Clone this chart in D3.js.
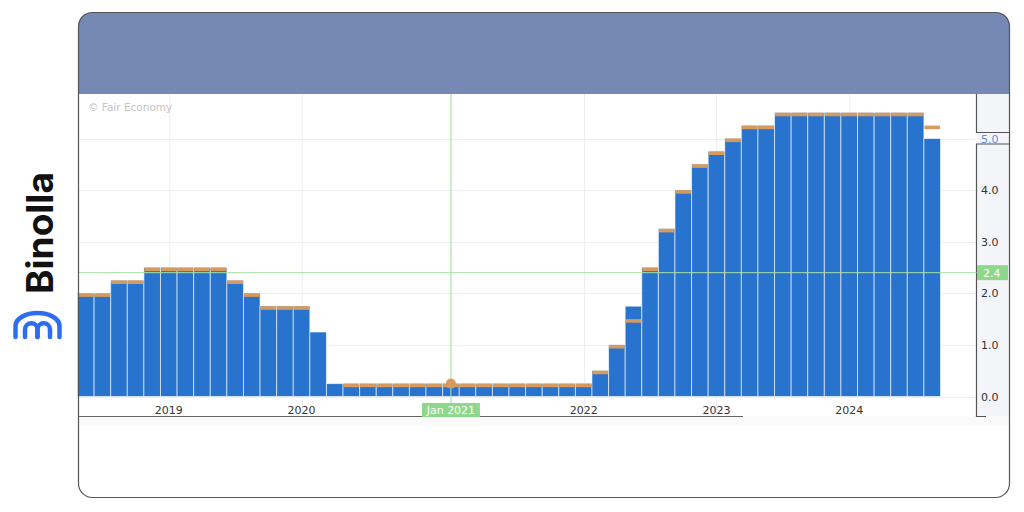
<!DOCTYPE html>
<html>
<head>
<meta charset="utf-8">
<script src="https://cdn.jsdelivr.net/npm/d3@7"></script>
<style>
  html, body { margin: 0; padding: 0; background: #fff; }
  svg { display: block; }
</style>
</head>
<body>
<svg id="chart" width="1024" height="512"></svg>
<script>
// FOMC meetings, upper bound of the fed funds rate
var meetings = [
  "Jun 2018", "Aug 2018", "Sep 2018", "Nov 2018", "Dec 2018",
  "Jan 2019", "Mar 2019", "May 2019", "Jun 2019", "Jul 2019", "Sep 2019", "Oct 2019", "Dec 2019",
  "Jan 2020", "Mar 2020", "Mar 2020", "Apr 2020", "Jun 2020", "Jul 2020", "Sep 2020", "Nov 2020", "Dec 2020",
  "Jan 2021", "Mar 2021", "Apr 2021", "Jun 2021", "Jul 2021", "Sep 2021", "Nov 2021", "Dec 2021",
  "Jan 2022", "Mar 2022", "May 2022", "Jun 2022", "Jul 2022", "Sep 2022", "Nov 2022", "Dec 2022",
  "Feb 2023", "Mar 2023", "May 2023", "Jun 2023", "Jul 2023", "Sep 2023", "Nov 2023", "Dec 2023",
  "Jan 2024", "Mar 2024", "May 2024", "Jun 2024", "Jul 2024", "Sep 2024"
];
var actual = [
  2.00, 2.00, 2.25, 2.25, 2.50,
  2.50, 2.50, 2.50, 2.50, 2.25, 2.00, 1.75, 1.75,
  1.75, 1.25, 0.25, 0.25, 0.25, 0.25, 0.25, 0.25, 0.25,
  0.25, 0.25, 0.25, 0.25, 0.25, 0.25, 0.25, 0.25,
  0.25, 0.50, 1.00, 1.75, 2.50, 3.25, 4.00, 4.50,
  4.75, 5.00, 5.25, 5.25, 5.50, 5.50, 5.50, 5.50,
  5.50, 5.50, 5.50, 5.50, 5.50, 5.00
];
var forecast = [
  2.00, 2.00, 2.25, 2.25, 2.50,
  2.50, 2.50, 2.50, 2.50, 2.25, 2.00, 1.75, 1.75,
  1.75, null, null, 0.25, 0.25, 0.25, 0.25, 0.25, 0.25,
  0.25, 0.25, 0.25, 0.25, 0.25, 0.25, 0.25, 0.25,
  0.25, 0.50, 1.00, 1.50, 2.50, 3.25, 4.00, 4.50,
  4.75, 5.00, 5.25, 5.25, 5.50, 5.50, 5.50, 5.50,
  5.50, 5.50, 5.50, 5.50, 5.50, 5.25
];
var yTicks = [0, 1, 2, 3, 4, 5];
var years = ["2019", "2020", "2021", "2022", "2023", "2024"];
var hoverIndex = 22;     // crosshair bar (Jan 2021)
var hoverValue = 2.4;    // crosshair level on the y axis

var svg = d3.select("#chart");

var frame = { left: 78.5, top: 12.5, right: 1009.5, bottom: 497.5, r: 14 },
  plotTop = 94, axisY = 416.5, axisX = 976.5;

var x = d3.scaleLinear().domain([0, meetings.length]).range([77.5, 940.5]);
var y = d3.scaleLinear().domain([0, 5]).range([396.5, 138.5]);
var bw = x(1) - x(0);

// header band with rounded top corners
svg.append("path")
  .attr("d",
    "M" + frame.left + "," + plotTop +
    "V" + (frame.top + frame.r) +
    "Q" + frame.left + "," + frame.top + " " + (frame.left + frame.r) + "," + frame.top +
    "H" + (frame.right - frame.r) +
    "Q" + frame.right + "," + frame.top + " " + frame.right + "," + (frame.top + frame.r) +
    "V" + plotTop + "Z")
  .attr("fill", "#7689b5");

// right axis panel
svg.append("rect")
  .attr("x", axisX).attr("y", plotTop)
  .attr("width", frame.right - axisX).attr("height", axisY - plotTop)
  .attr("fill", "#f4f5f9");

// faint strip under the x axis
svg.append("rect")
  .attr("x", frame.left).attr("y", axisY)
  .attr("width", frame.right - frame.left).attr("height", 9)
  .attr("fill", "#fafafb");

// horizontal grid
svg.append("g").selectAll("line")
  .data(yTicks).enter().append("line")
  .attr("x1", frame.left).attr("x2", axisX)
  .attr("y1", function (d) { return Math.round(y(d)) + 0.5; })
  .attr("y2", function (d) { return Math.round(y(d)) + 0.5; })
  .attr("stroke", "#eceef4");

// year positions: centre of the first meeting of each year
var yearPos = years.map(function (yr) {
  var i = meetings.findIndex(function (m) { return m.slice(-4) === yr; });
  return { label: yr, pos: i + 0.5, i: i };
});

svg.append("g").selectAll("line")
  .data(yearPos).enter().append("line")
  .attr("x1", function (d) { return Math.round(x(d.pos)) + 0.5; })
  .attr("x2", function (d) { return Math.round(x(d.pos)) + 0.5; })
  .attr("y1", plotTop).attr("y2", axisY)
  .attr("stroke", "#eceef4");

svg.append("text")
  .attr("x", 88).attr("y", 111)
  .attr("font-family", "DejaVu Sans, Verdana, sans-serif")
  .attr("font-size", 10.5)
  .attr("fill", "#c4c4c4")
  .text("\u00a9 Fair Economy");

// bars (actual)
svg.append("g").selectAll("rect")
  .data(actual).enter().append("rect")
  .attr("x", function (d, i) { return x(i); })
  .attr("y", function (d) { return y(d); })
  .attr("width", bw)
  .attr("height", function (d) { return y(0) - y(d); })
  .attr("fill", "#2873cd")
  .attr("stroke", "rgba(255,255,255,0.6)")
  .attr("stroke-width", 1);

// forecast markers
svg.append("g").selectAll("rect")
  .data(forecast.map(function (f, i) { return { f: f, i: i }; })
    .filter(function (d) { return d.f !== null; }))
  .enter().append("rect")
  .attr("x", function (d) { return x(d.i) + 0.5; })
  .attr("y", function (d) { return y(d.f); })
  .attr("width", bw - 1)
  .attr("height", 3.6)
  .attr("fill", "#d69a5e");

// x axis line (partial, as in the source)
svg.append("line")
  .attr("x1", frame.left).attr("x2", 743)
  .attr("y1", axisY).attr("y2", axisY)
  .attr("stroke", "#666").attr("stroke-width", 1.2);

// year labels; the one under the crosshair is covered by its date label
svg.append("g").selectAll("text")
  .data(yearPos.filter(function (d) { return d.i !== hoverIndex; }))
  .enter().append("text")
  .attr("x", function (d) { return x(d.pos); })
  .attr("y", 414)
  .attr("text-anchor", "middle")
  .attr("font-family", "DejaVu Sans, Verdana, sans-serif")
  .attr("font-size", 11)
  .attr("fill", "#333")
  .text(function (d) { return d.label; });

// right axis line with a gap around the top label
var topTick = yTicks[yTicks.length - 1];
svg.append("path")
  .attr("d",
    "M" + axisX + "," + plotTop + "V" + (y(topTick) - 6) + "H" + frame.right +
    "M" + frame.right + "," + (y(topTick) + 5.5) + "H" + axisX + "V" + axisY + "H" + 986)
  .attr("fill", "none")
  .attr("stroke", "#555").attr("stroke-width", 1.2);

svg.append("g").selectAll("text")
  .data(yTicks).enter().append("text")
  .attr("x", 981)
  .attr("y", function (d) { return y(d) + 4; })
  .attr("font-family", "DejaVu Sans, Verdana, sans-serif")
  .attr("font-size", 11)
  .attr("fill", function (d) { return d === topTick ? "#5b93dd" : "#333"; })
  .text(function (d) { return d.toFixed(1); });

// crosshair
var cx = x(hoverIndex + 0.5), cyv = y(hoverValue);
svg.append("line")
  .attr("x1", frame.left).attr("x2", axisX)
  .attr("y1", cyv).attr("y2", cyv)
  .attr("stroke", "#a6e2a6").attr("stroke-width", 1);
svg.append("line")
  .attr("x1", cx).attr("x2", cx)
  .attr("y1", plotTop).attr("y2", 404)
  .attr("stroke", "#a6e2a6").attr("stroke-width", 1);
svg.append("circle")
  .attr("cx", cx).attr("cy", y(forecast[hoverIndex]))
  .attr("r", 5)
  .attr("fill", "#d69a5e");

svg.append("rect")
  .attr("x", cx - 29).attr("y", 403)
  .attr("width", 58).attr("height", 14)
  .attr("fill", "#8ed88e");
svg.append("text")
  .attr("x", cx).attr("y", 414)
  .attr("text-anchor", "middle")
  .attr("font-family", "DejaVu Sans, Verdana, sans-serif")
  .attr("font-size", 11)
  .attr("fill", "#fff")
  .text(meetings[hoverIndex]);

svg.append("rect")
  .attr("x", axisX + 0.5).attr("y", cyv - 7.5)
  .attr("width", 31).attr("height", 15)
  .attr("fill", "#8ed88e");
svg.append("text")
  .attr("x", 983).attr("y", cyv + 4)
  .attr("font-family", "DejaVu Sans, Verdana, sans-serif")
  .attr("font-size", 11)
  .attr("fill", "#fff")
  .text(hoverValue.toFixed(1));

// outer frame
svg.append("rect")
  .attr("x", frame.left).attr("y", frame.top)
  .attr("width", frame.right - frame.left).attr("height", frame.bottom - frame.top)
  .attr("rx", frame.r)
  .attr("fill", "none")
  .attr("stroke", "#555").attr("stroke-width", 1.2);

// Binolla brand
svg.append("text")
  .attr("transform", "translate(53,233) rotate(-90)")
  .attr("text-anchor", "middle")
  .attr("font-family", "Inter, Roboto, sans-serif")
  .attr("font-weight", 700)
  .attr("font-size", 37)
  .attr("fill", "#111")
  .text("Binolla");

var logo = svg.append("g")
  .attr("fill", "none")
  .attr("stroke", "#2f6df0")
  .attr("stroke-width", 4.5)
  .attr("stroke-linecap", "round");
logo.append("path").attr("d", "M15.5,337V326A22,13 0 0 1 59.5,326V337");
logo.append("path").attr("d", "M25,337V329.5A6.25,6.25 0 0 1 37.5,329.5V337");
logo.append("path").attr("d", "M37.5,337V329.5A6.25,6.25 0 0 1 50,329.5V337");
</script>
</body>
</html>
